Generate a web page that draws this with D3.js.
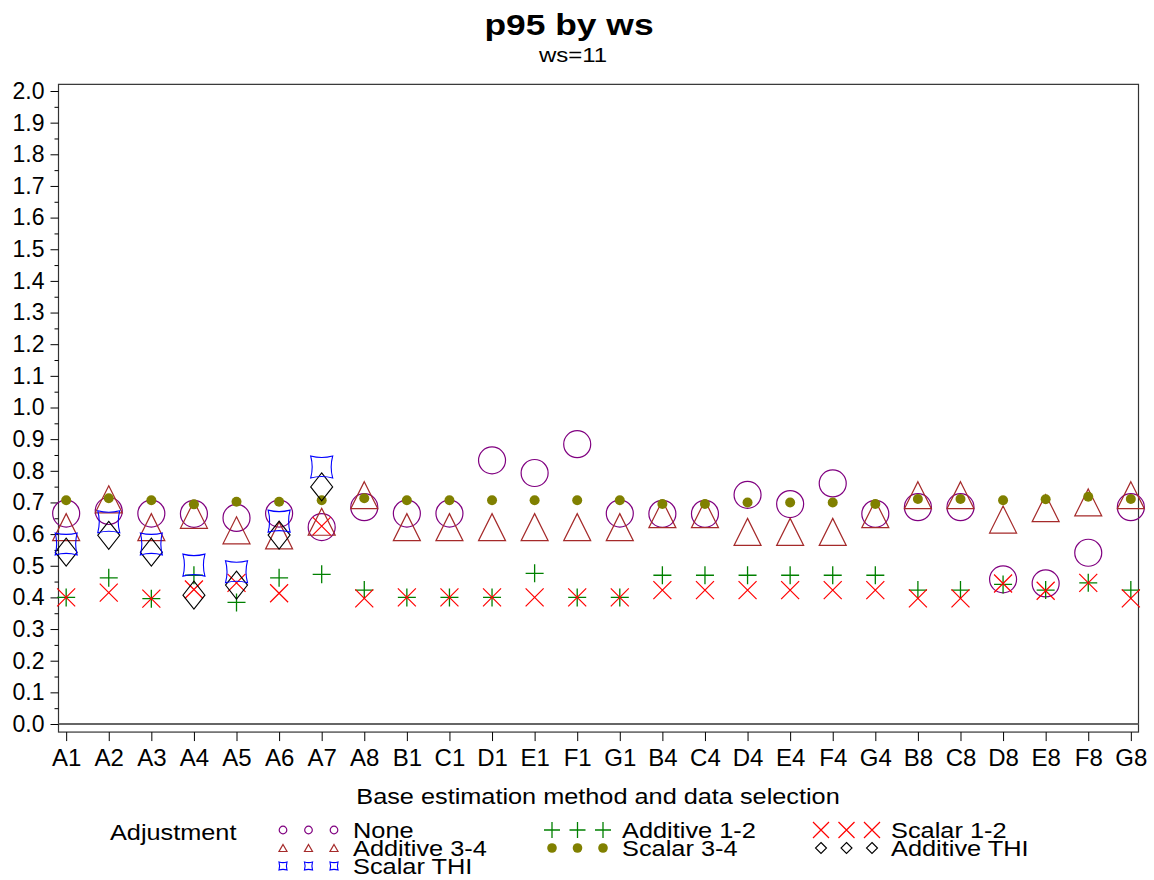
<!DOCTYPE html>
<html>
<head>
<meta charset="utf-8">
<script src="https://cdn.jsdelivr.net/npm/d3@7"></script>
<style>
  body { margin: 0; background: #fff; }
  svg { display: block; font-family: "Liberation Sans", Arial, sans-serif; }
</style>
</head>
<body>
<div id="container"></div>
<script>
/* DATA */
const categories = ["A1","A2","A3","A4","A5","A6","A7","A8","B1","C1","D1","E1","F1","G1",
                    "B4","C4","D4","E4","F4","G4","B8","C8","D8","E8","F8","G8"];
const yTicks = d3.range(0, 21).map(i => i / 10);

const noneVals   = [0.665,0.673,0.665,0.664,0.651,0.665,0.622,0.685,0.665,0.665,0.833,0.793,0.884,0.665,
                    0.664,0.664,0.724,0.695,0.760,0.664,0.685,0.685,0.457,0.444,0.541,0.685];
const add12Vals  = [0.400,0.462,0.396,0.470,0.384,0.462,0.473,0.423,0.400,0.400,0.400,0.476,0.400,0.400,
                    0.470,0.470,0.470,0.470,0.470,0.470,0.423,0.423,0.441,0.423,0.446,0.423];
const scal12Vals = [0.400,0.415,0.396,0.425,0.446,0.413,0.625,0.397,0.400,0.400,0.400,0.400,0.400,0.400,
                    0.423,0.423,0.423,0.423,0.423,0.423,0.397,0.397,0.444,0.421,0.446,0.397];
const add34Vals  = [0.622,0.710,0.622,0.661,0.612,0.596,0.639,0.723,0.622,0.622,0.622,0.622,0.622,0.622,
                    0.663,0.663,0.607,0.607,0.607,0.663,0.723,0.723,0.646,0.682,0.700,0.723];
const scal34Vals = [0.707,0.713,0.707,0.694,0.702,0.702,0.707,0.713,0.707,0.707,0.707,0.707,0.707,0.707,
                    0.695,0.695,0.700,0.700,0.700,0.695,0.711,0.711,0.707,0.710,0.718,0.711];
const addTHIVals  = [0.543,0.596,0.543,0.407,0.439,0.597,0.749];
const scalTHIVals = [0.569,0.639,0.569,0.502,0.481,0.641,0.812];

/* SHAPES */
const circlePath = r => `M${r},0A${r},${r} 0 1,1 ${-r},0A${r},${r} 0 1,1 ${r},0Z`;
const trianglePath = (w, h) => `M0,${-h/2}L${w/2},${h/2}L${-w/2},${h/2}Z`;
const plusPath = s => `M${-s},0H${s}M0,${-s}V${s}`;
const crossPath = s => `M${-s},${-s}L${s},${s}M${s},${-s}L${-s},${s}`;
const diamondPath = (w, h) => `M0,${-h/2}L${w/2},0L0,${h/2}L${-w/2},0Z`;
const concavePath = (s, k) =>
  `M${-s},${-s}Q0,${-s+k} ${s},${-s}Q${s-k},0 ${s},${s}Q0,${s-k} ${-s},${s}Q${-s+k},0 ${-s},${-s}Z`;

const series = [
  { name: "None",         values: noneVals,    color: "#800080", fill: "none", sw: 1.2, shape: circlePath(13.5),        legendShape: circlePath(3.8) },
  { name: "Additive 1-2", values: add12Vals,   color: "#008000", fill: "none", sw: 1.3, shape: plusPath(9),             legendShape: plusPath(8) },
  { name: "Scalar 1-2",   values: scal12Vals,  color: "#ff0000", fill: "none", sw: 1.2, shape: crossPath(9),            legendShape: crossPath(8) },
  { name: "Additive 3-4", values: add34Vals,   color: "#a52a2a", fill: "none", sw: 1.2, shape: trianglePath(27, 27),    legendShape: trianglePath(8, 7) },
  { name: "Scalar 3-4",   values: scal34Vals,  color: "#808000", fill: "#808000", sw: 0, shape: circlePath(5),          legendShape: circlePath(4.8) },
  { name: "Additive THI", values: addTHIVals,  color: "#000000", fill: "none", sw: 1.1, shape: diamondPath(22, 28),     legendShape: diamondPath(11, 11) },
  { name: "Scalar THI",   values: scalTHIVals, color: "#0000ff", fill: "none", sw: 1.1, shape: concavePath(11, 3),      legendShape: concavePath(4, 1.2) }
];

/* LAYOUT */
const width = 1154, height = 880;
const plotLeft = 58.5, plotRight = 1138.5;

const svg = d3.select("#container").append("svg")
  .attr("width", width).attr("height", height);

const x = d3.scalePoint().domain(categories).range([plotLeft, plotRight]).padding(0.18);
const y = d3.scaleLinear().domain([0, 2]).range([724, 91]);
const plotTop = y(2.021), plotBottom = y(-0.0255);

// frame
svg.append("rect")
  .attr("x", plotLeft).attr("y", plotTop)
  .attr("width", plotRight - plotLeft).attr("height", plotBottom - plotTop)
  .attr("fill", "none").attr("stroke", "#333").attr("stroke-width", 1.2);

// zero line
svg.append("line")
  .attr("x1", plotLeft).attr("x2", plotRight)
  .attr("y1", y(0)).attr("y2", y(0))
  .attr("stroke", "#666").attr("stroke-width", 2);

// y axis
const yAxis = d3.axisLeft(y).tickValues(yTicks).tickFormat(d3.format(".1f")).tickSize(8).tickPadding(6);
const yg = svg.append("g").attr("transform", `translate(${plotLeft},0)`).call(yAxis);
yg.select(".domain").remove();
yg.selectAll("text").style("font-size", "23px").attr("fill", "#000");

const yMinor = d3.axisLeft(y).tickValues(yTicks.slice(0, -1).map(d => d + 0.05)).tickFormat("").tickSize(4);
const ym = svg.append("g").attr("transform", `translate(${plotLeft},0)`).call(yMinor);
ym.select(".domain").remove();

// x axis
const xAxis = d3.axisBottom(x).tickSize(9).tickPadding(8);
const xg = svg.append("g").attr("transform", `translate(0,${plotBottom})`).call(xAxis);
xg.select(".domain").remove();
xg.selectAll("text").style("font-size", "24px").attr("fill", "#000");

// markers
series.forEach(s => {
  svg.append("g").selectAll("path")
    .data(s.values.map((v, i) => ({ cat: categories[i], v })).filter(d => d.v != null))
    .join("path")
    .attr("d", s.shape)
    .attr("transform", d => `translate(${x(d.cat)},${y(d.v)})`)
    .attr("fill", s.fill)
    .attr("stroke", s.sw ? s.color : "none")
    .attr("stroke-width", s.sw);
});

// titles
const stretchText = (txt, cx, by, size, sx, weight, anchor) =>
  svg.append("text")
    .attr("transform", `translate(${cx},${by}) scale(${sx},1)`)
    .attr("text-anchor", anchor || "middle")
    .style("font-size", size + "px")
    .style("font-weight", weight || "normal")
    .text(txt);

stretchText("p95 by ws", 569, 35, 30, 1.18, "bold");
stretchText("ws=11", 573, 62, 20, 1.2);
stretchText("Base estimation method and data selection", 598, 804, 22, 1.15);

// legend
stretchText("Adjustment", 110, 840, 22, 1.15, "normal", "start");

const legendCols = [283, 552, 821];
const legendTextX = [353, 622, 891];
const legendRows = [830, 848, 866];

series.forEach((s, i) => {
  const col = i % 3, row = Math.floor(i / 3);
  const cy = legendRows[row];
  svg.append("g").selectAll("path")
    .data([0, 1, 2])
    .join("path")
    .attr("d", s.legendShape)
    .attr("transform", k => `translate(${legendCols[col] + k * 25.5},${cy})`)
    .attr("fill", s.fill)
    .attr("stroke", s.sw ? s.color : "none")
    .attr("stroke-width", s.sw);
  stretchText(s.name, legendTextX[col], cy + 7.5, 21.5, 1.18, "normal", "start");
});
</script>
</body>
</html>
